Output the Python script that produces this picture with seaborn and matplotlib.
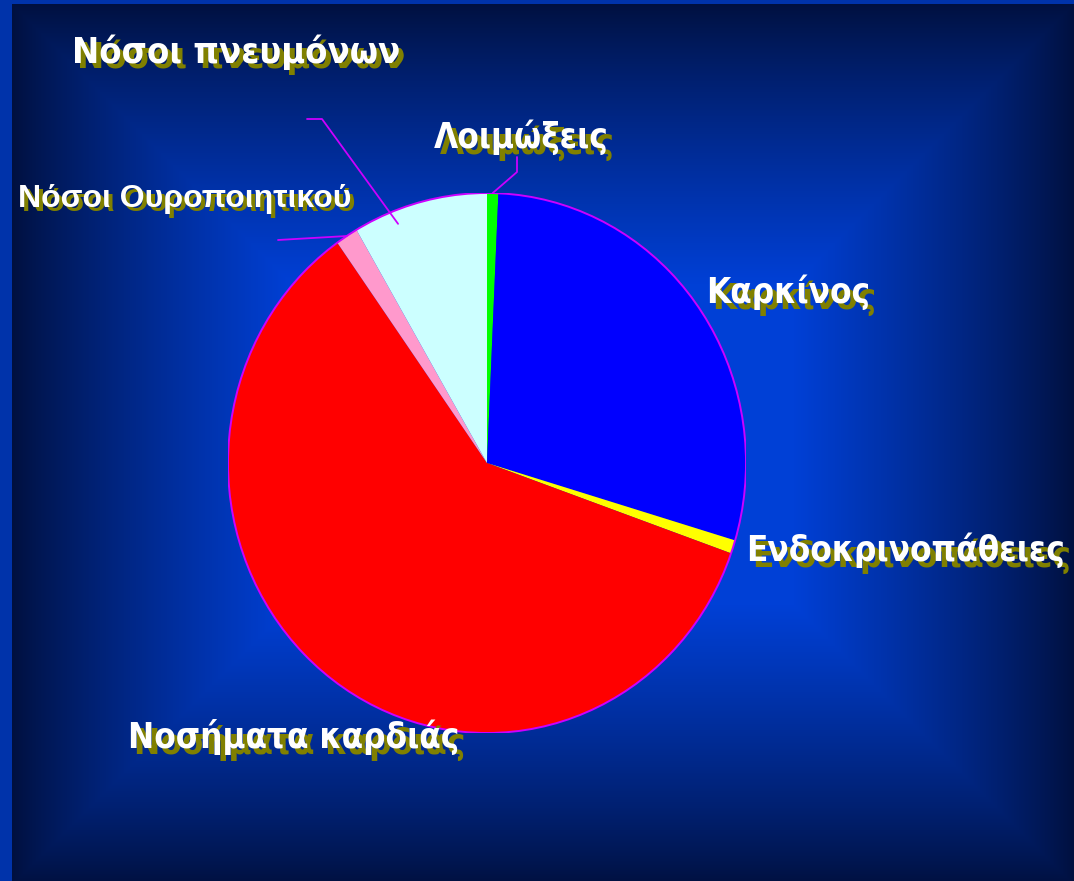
import numpy as np
import matplotlib
matplotlib.use("Agg")
import matplotlib.pyplot as plt
import seaborn as sns
from matplotlib.patches import Ellipse
import matplotlib.transforms as mtransforms

# ---- data ----
categories = ['Λοιμώξεις', 'Καρκίνος', 'Ενδοκρινοπάθειες', 'Νοσήματα καρδιάς',
              'Νόσοι Ουροποιητικού', 'Νόσοι πνευμόνων']
values = [0.7, 28.9, 0.8, 59.7, 1.4, 8.4]
colors = ['#00ff00', '#0000ff', '#ffff00', '#ff0000', '#ff99cc', '#ccffff']

# ---- layout (pixels) ----
W, H = 1074, 881
CX, CY, RX, RY = 487, 463, 259, 270

sns.set_theme(style='white')
plt.rcParams['font.family'] = ['DejaVu Sans']

fig = plt.figure(figsize=(W / 100, H / 100), dpi=100)

# background: rectangular gradient from the edges
bg = fig.add_axes([0, 0, 1, 1])
xs = np.arange(W) + 0.5
ys = np.arange(H) + 0.5
XX, YY = np.meshgrid(xs, ys)
L, R, T, B = 12, 1074, 4, 885
d = np.minimum.reduce([XX - L, R - XX, YY - T, B - YY])
t = np.clip(d / 280.0, 0, 1) ** 0.85
dark = np.array([0, 16, 62]) / 255
bright = np.array([0, 64, 214]) / 255
img = dark[None, None, :] * (1 - t[..., None]) + bright[None, None, :] * t[..., None]
frame = np.array([0, 51, 170]) / 255
img[:, :L] = frame
img[:T, :] = frame
bg.imshow(img, extent=[0, W, H, 0], aspect='auto', interpolation='bilinear')
bg.set_xlim(0, W)
bg.set_ylim(H, 0)
bg.axis('off')

# pie axes
ax = fig.add_axes([(CX - RX) / W, (H - CY - RY) / H, 2 * RX / W, 2 * RY / H])
wedges, _ = ax.pie(values, colors=colors, startangle=90, counterclock=False,
                   radius=1, wedgeprops=dict(linewidth=0))
ax.set_aspect('auto')
ax.set_xlim(-1, 1)
ax.set_ylim(-1, 1)
ax.add_patch(Ellipse((0, 0), 2, 2, fill=False, edgecolor='#cc00ff', linewidth=1.4, zorder=5))
ax.axis('off')

# overlay in pixel coordinates
ov = fig.add_axes([0, 0, 1, 1])
ov.set_xlim(0, W)
ov.set_ylim(H, 0)
ov.axis('off')
ov.patch.set_alpha(0)

def edge_pt(wedge, r=1.0, frac=0.5):
    lo, hi = sorted([wedge.theta1, wedge.theta2])
    a = np.deg2rad(lo + frac * (hi - lo))
    return CX + RX * r * np.cos(a), CY - RY * r * np.sin(a)

lc = '#cc00ff'
# Λοιμώξεις
x0, y0 = edge_pt(wedges[0])
ov.plot([x0, 517, 517], [y0, 172, 157], color=lc, lw=1.3)
# Νόσοι πνευμόνων
x0, y0 = edge_pt(wedges[5], 0.95, 0.7)
ov.plot([x0, 322, 307], [y0, 119, 119], color=lc, lw=1.3)
# Νόσοι Ουροποιητικού
x0, y0 = edge_pt(wedges[4])
ov.plot([x0, 278], [y0, 240], color=lc, lw=1.3)

def label(txt, x, y, size, ha='left', family=None, stretch='condensed', off=5):
    fam = family or ['DejaVu Sans']
    shadow_tr = mtransforms.offset_copy(ov.transData, fig=fig, x=off, y=-off, units='dots')
    kw = dict(fontsize=size, fontweight='bold', ha=ha, va='baseline',
              family=fam, fontstretch=stretch)
    ov.text(x, y, txt, transform=shadow_tr, color='#808000', **kw)
    ov.text(x, y, txt, color='white', **kw)

label(categories[0], 521, 148, 25, ha='center', off=6)
label(categories[1], 706, 303, 25, off=6)
label(categories[2], 746, 561, 25, off=6)
label(categories[3], 128, 748, 25, off=6)
label(categories[4], 18, 207, 23, family=['Liberation Sans'], stretch='normal', off=4)
label(categories[5], 72, 63, 26, off=5)

fig.savefig('out.png', dpi=100)
